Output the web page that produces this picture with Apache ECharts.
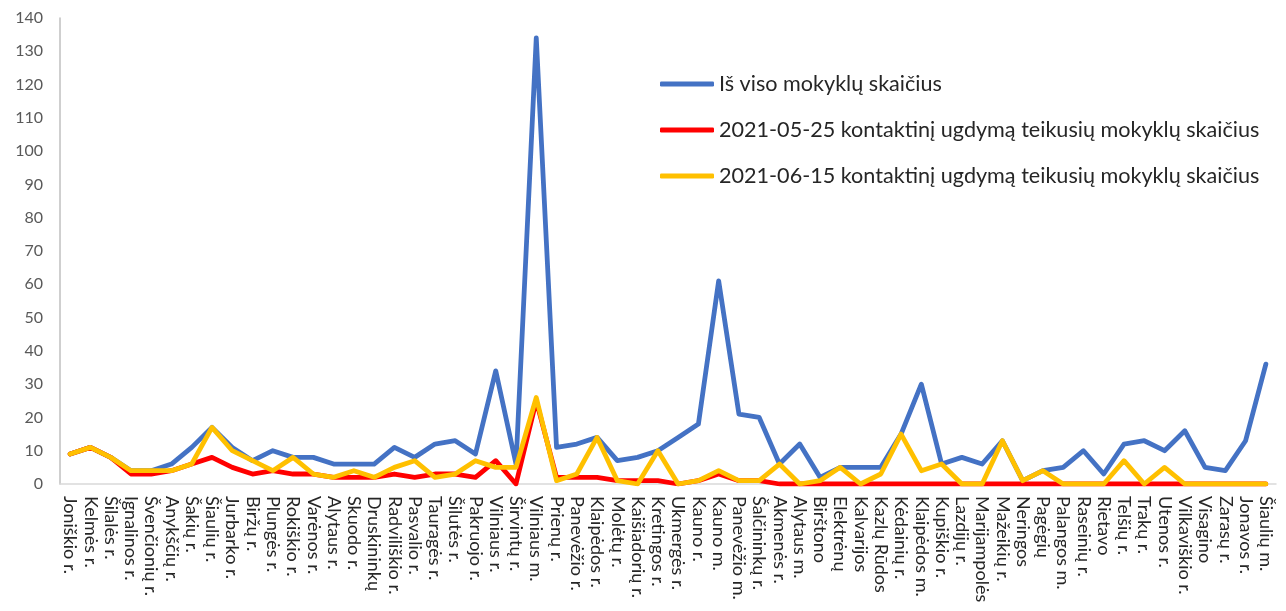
<!DOCTYPE html>
<html>
<head>
<meta charset="utf-8">
<script src="https://cdn.jsdelivr.net/npm/echarts@6/dist/echarts.min.js"></script>
<style>
html,body{margin:0;padding:0;background:#fff;}
#chart{width:1286px;height:611px;}
</style>
</head>
<body>
<div id="chart"></div>
<script>
const categories = ["Joniškio r.","Kelmės r.","Šilalės r.","Ignalinos r.","Švenčionių r.","Anykščių r.","Šakių r.","Šiaulių r.","Jurbarko r.","Biržų r.","Plungės r.","Rokiškio r.","Varėnos r.","Alytaus r.","Skuodo r.","Druskininkų","Radviliškio r.","Pasvalio r.","Tauragės r.","Šilutės r.","Pakruojo r.","Vilniaus r.","Širvintų r.","Vilniaus m.","Prienų r.","Panevėžio r.","Klaipėdos r.","Molėtų r.","Kaišiadorių r.","Kretingos r.","Ukmergės r.","Kauno r.","Kauno m.","Panevėžio m.","Šalčininkų r.","Akmenės r.","Alytaus m.","Birštono","Elektrėnų","Kalvarijos","Kazlų Rūdos","Kėdainių r.","Klaipėdos m.","Kupiškio r.","Lazdijų r.","Marijampolės","Mažeikių r.","Neringos","Pagėgių","Palangos m.","Raseinių r.","Rietavo","Telšių r.","Trakų r.","Utenos r.","Vilkaviškio r.","Visagino","Zarasų r.","Jonavos r.","Šiaulių m."];

const totalSchools = [9,11,8,4,4,6,11,17,11,7,10,8,8,6,6,6,11,8,12,13,9,34,6,134,11,12,14,7,8,10,14,18,61,21,20,6,12,2,5,5,5,15,30,6,8,6,13,1,4,5,10,3,12,13,10,16,5,4,13,36];
const contact0525 = [9,11,8,3,3,4,6,8,5,3,4,3,3,2,2,2,3,2,3,3,2,7,0,25,2,2,2,1,1,1,0,1,3,1,1,0,0,0,0,0,0,0,0,0,0,0,0,0,0,0,0,0,0,0,0,0,0,0,0,0];
const contact0615 = [9,11,8,4,4,4,6,17,10,7,4,8,3,2,4,2,5,7,2,3,7,5,5,26,1,3,14,1,0,10,0,1,4,1,1,6,0,1,5,0,3,15,4,6,0,0,13,1,4,0,0,0,7,0,5,0,0,0,0,0];

const seriesNames = ["Iš viso mokyklų skaičius","2021-05-25 kontaktinį ugdymą teikusių mokyklų skaičius","2021-06-15 kontaktinį ugdymą teikusių mokyklų skaičius"];
const yMin = 0, yMax = 140, yStep = 10;

const chart = echarts.init(document.getElementById('chart'));
const font = 'Lato, "Open Sans", sans-serif';
function line(name, data, color){
  return {name:name, type:'line', data:data, symbol:'none', smooth:false,
    lineStyle:{color:color, width:4.8, cap:'round', join:'round'}, itemStyle:{color:color}};
}
chart.setOption({
  animation:false,
  backgroundColor:'#fff',
  grid:{left:60, right:10, top:18, bottom:127},
  legend:{
    orient:'vertical', left:660, top:73, padding:0,
    icon:'roundRect', itemWidth:54, itemHeight:5, itemGap:24,
    textStyle:{fontFamily:font, fontSize:21.6, color:'#262626'},
    data:seriesNames
  },
  xAxis:{
    type:'category', data:categories, boundaryGap:true,
    axisLine:{lineStyle:{color:'#D9D9D9', width:1.5}},
    axisTick:{show:false},
    axisLabel:{interval:0, rotate:-90, margin:12, fontFamily:font, fontSize:18, color:'#262626'}
  },
  yAxis:{
    type:'value', min:yMin, max:yMax, interval:yStep,
    axisLine:{show:true, lineStyle:{color:'#BFBFBF', width:1.5}},
    axisTick:{show:false},
    splitLine:{show:false},
    axisLabel:{fontFamily:font, fontSize:16, color:'#595959', margin:17}
  },
  series:[
    line(seriesNames[0], totalSchools, '#4472C4'),
    line(seriesNames[1], contact0525, '#FF0000'),
    line(seriesNames[2], contact0615, '#FFC000')
  ]
});
</script>
</body>
</html>
